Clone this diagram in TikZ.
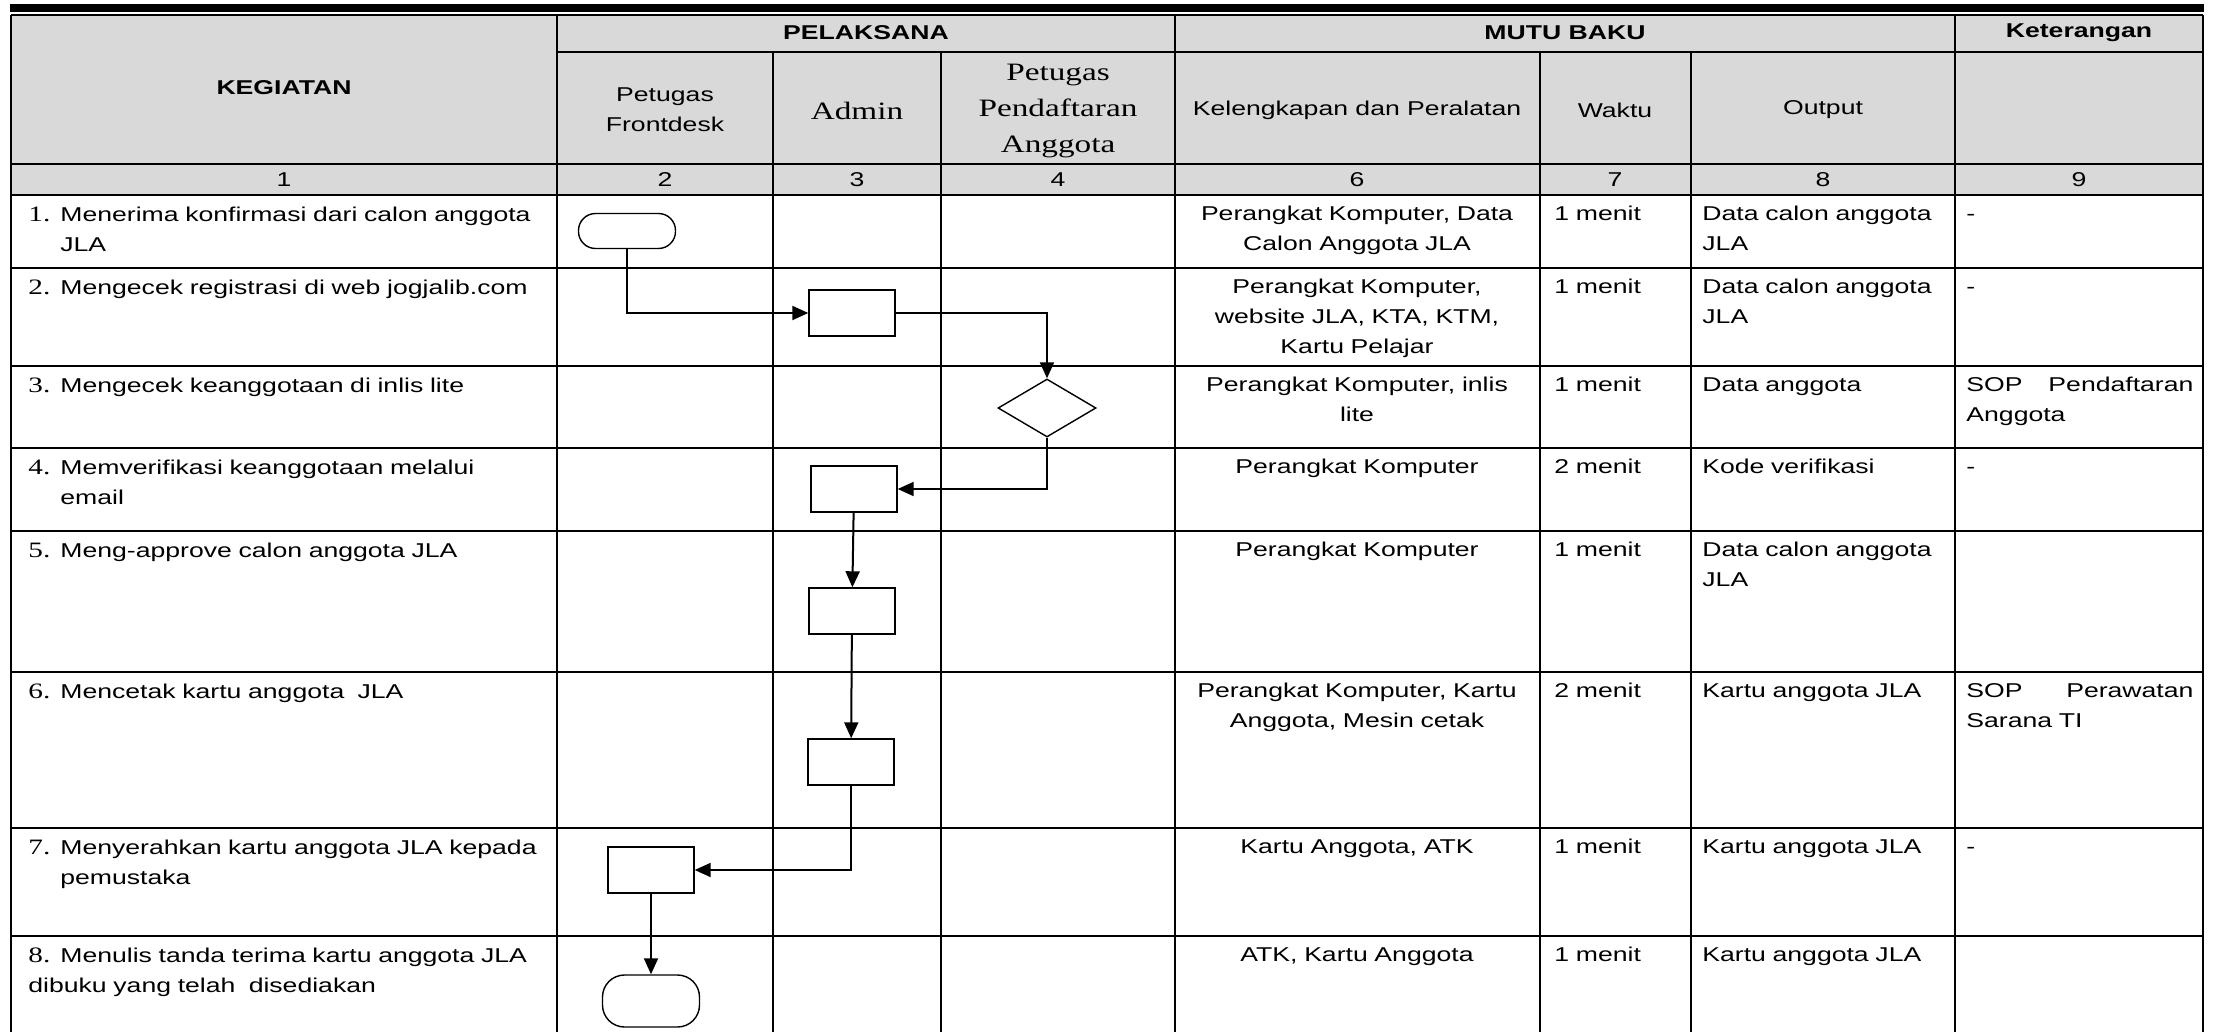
\documentclass[tikz,border=0pt]{standalone}
\usepackage{fontspec}
\setmainfont{Liberation Sans}[FakeStretch=1.33]
\newfontfamily\serifnum{Liberation Serif}[FakeStretch=1.33]
\usetikzlibrary{arrows.meta,shapes.geometric}
\definecolor{hdrgray}{HTML}{D9D9D9}
\tikzset{
  gridline/.style={line width=0.8pt},
  rowline/.style={line width=1.3pt},
  hdr/.style={font=\fontsize{10}{15}\selectfont\bfseries, inner sep=0pt},
  sub/.style={font=\fontsize{10}{15}\selectfont, align=center, inner sep=0pt},
  subrm/.style={font=\serifnum\fontsize{12.5}{18}\selectfont, align=center, inner sep=0pt},
  idx/.style={font=\serifnum\fontsize{11}{15}\selectfont, anchor=base west, inner sep=0pt},
  keg/.style={font=\fontsize{10}{15}\selectfont, text width=250pt, align=left,
              anchor=north west, inner sep=0pt, execute at begin node=\strut},
  alat/.style={font=\fontsize{10}{15}\selectfont, text width=182pt, align=center,
               anchor=north, inner sep=0pt, execute at begin node=\strut},
  cell/.style={font=\fontsize{10}{15}\selectfont, text width=128pt, align=left,
               anchor=north west, inner sep=0pt, execute at begin node=\strut},
  ket/.style={font=\fontsize{10}{15}\selectfont, text width=113.5pt, align=left,
              anchor=north west, inner sep=0pt, execute at begin node=\strut},
  proc/.style={rectangle, draw, line width=0.7pt, minimum width=43pt,
               minimum height=23pt, inner sep=0pt},
  term/.style={rectangle, draw, line width=0.7pt, minimum width=48.5pt, inner sep=0pt},
  dec/.style={diamond, draw, line width=0.7pt, minimum width=49pt,
              minimum height=29pt, inner sep=0pt},
  flow/.style={-{Triangle[length=8pt,width=7pt]}, line width=1pt},
}

\begin{document}
\begin{tikzpicture}[x=0.5pt,y=-0.5pt]
\useasboundingbox (0,0) rectangle (2215,1032);

% column and row edges
\def\ca{11}\def\cb{557}\def\cc{773}\def\cd{941}\def\ce{1175}
\def\cf{1540}\def\cg{1691}\def\ch{1955}\def\ci{2203}
\def\ra{15}\def\rb{52}\def\rc{164}\def\rd{195}\def\re{268}\def\rf{366}
\def\rg{448}\def\rh{531}\def\ri{672}\def\rj{828}\def\rk{936}\def\rl{1032}

% ---------- frame ----------
\fill (10,4) rectangle (2204,12);
\fill[hdrgray] (\ca,\ra) rectangle (\ci,\rd);
\draw[gridline] (\ca,\ra) -- (\ci,\ra) (\cb,\rb) -- (\ci,\rb);
\draw[rowline] (\ca,\rc) -- (\ci,\rc) (\ca,\rd) -- (\ci,\rd)
  (\ca,\re) -- (\ci,\re) (\ca,\rf) -- (\ci,\rf) (\ca,\rg) -- (\ci,\rg)
  (\ca,\rh) -- (\ci,\rh) (\ca,\ri) -- (\ci,\ri) (\ca,\rj) -- (\ci,\rj)
  (\ca,\rk) -- (\ci,\rk);
\draw[gridline] (\ca,\ra) -- (\ca,\rl) (\cb,\ra) -- (\cb,\rl)
  (\cc,\rb) -- (\cc,\rl) (\cd,\rb) -- (\cd,\rl) (\ce,\ra) -- (\ce,\rl)
  (\cf,\rb) -- (\cf,\rl) (\cg,\rb) -- (\cg,\rl) (\ch,\ra) -- (\ch,\rl)
  (\ci,\ra) -- (\ci,\rl);

% ---------- headers ----------
\node[hdr] (hKeg) at (284,88) {KEGIATAN};
\node[hdr] (hPel) at (866,33) {PELAKSANA};
\node[hdr] (hMutu) at (1565,33) {MUTU BAKU};
\node[hdr] (hKet) at (2079,33) {Keterangan};
\node[sub] (sFront) at (665,110) {Petugas\\Frontdesk};
\node[subrm] (sAdmin) at (857,111) {Admin};
\node[subrm] (sDaftar) at (1058,111) {Petugas\\Pendaftaran\\Anggota};
\node[sub] (sAlat) at (1357,110) {Kelengkapan dan Peralatan};
\node[sub] (sWaktu) at (1615,110) {Waktu};
\node[sub] (sOutput) at (1823,110) {Output};

\node[sub] (num1) at (284,180) {1};
\node[sub] (num2) at (665,180) {2};
\node[sub] (num3) at (857,180) {3};
\node[sub] (num4) at (1058,180) {4};
\node[sub] (num6) at (1357,180) {6};
\node[sub] (num7) at (1615,180) {7};
\node[sub] (num8) at (1823,180) {8};
\node[sub] (num9) at (2079,180) {9};

% ---------- kegiatan ----------
\node[idx] (i1) at (28,221) {1.};
\node[keg] (k1) at (60,200) {Menerima konfirmasi dari calon anggota\\JLA};
\node[idx] (i2) at (28,294) {2.};
\node[keg] (k2) at (60,273) {Mengecek registrasi di web jogjalib.com};
\node[idx] (i3) at (28,392) {3.};
\node[keg] (k3) at (60,371) {Mengecek keanggotaan di inlis lite};
\node[idx] (i4) at (28,474) {4.};
\node[keg] (k4) at (60,453) {Memverifikasi keanggotaan melalui\\email};
\node[idx] (i5) at (28,557) {5.};
\node[keg] (k5) at (60,536) {Meng-approve calon anggota JLA};
\node[idx] (i6) at (28,698) {6.};
\node[keg] (k6) at (60,677) {Mencetak kartu anggota~ JLA};
\node[idx] (i7) at (28,854) {7.};
\node[keg] (k7) at (60,833) {Menyerahkan kartu anggota JLA kepada\\pemustaka};
\node[idx] (i8) at (28,962) {8.};
\node[keg] (k8) at (60,941) {Menulis tanda terima kartu anggota JLA};
\node[keg] (k8b) at (28,971) {dibuku yang telah~ disediakan};

% ---------- mutu baku ----------
\node[alat] (a1) at (1357,199) {Perangkat Komputer, Data\\Calon Anggota JLA};
\node[alat] (a2) at (1357,272) {Perangkat Komputer,\\website JLA, KTA, KTM,\\Kartu Pelajar};
\node[alat] (a3) at (1357,370) {Perangkat Komputer, inlis\\lite};
\node[alat] (a4) at (1357,452) {Perangkat Komputer};
\node[alat] (a5) at (1357,535) {Perangkat Komputer};
\node[alat] (a6) at (1357,676) {Perangkat Komputer, Kartu\\Anggota, Mesin cetak};
\node[alat] (a7) at (1357,832) {Kartu Anggota, ATK};
\node[alat] (a8) at (1357,940) {ATK, Kartu Anggota};

\node[cell] (w1) at (1554,199) {1 menit};
\node[cell] (w2) at (1554,272) {1 menit};
\node[cell] (w3) at (1554,370) {1 menit};
\node[cell] (w4) at (1554,452) {2 menit};
\node[cell] (w5) at (1554,535) {1 menit};
\node[cell] (w6) at (1554,676) {2 menit};
\node[cell] (w7) at (1554,832) {1 menit};
\node[cell] (w8) at (1554,940) {1 menit};

\node[cell] (o1) at (1702,199) {Data calon anggota\\JLA};
\node[cell] (o2) at (1702,272) {Data calon anggota\\JLA};
\node[cell] (o3) at (1702,370) {Data anggota};
\node[cell] (o4) at (1702,452) {Kode verifikasi};
\node[cell] (o5) at (1702,535) {Data calon anggota\\JLA};
\node[cell] (o6) at (1702,676) {Kartu anggota JLA};
\node[cell] (o7) at (1702,832) {Kartu anggota JLA};
\node[cell] (o8) at (1702,940) {Kartu anggota JLA};

% ---------- keterangan ----------
\node[ket] (ket1) at (1966,199) {-};
\node[ket] (ket2) at (1966,272) {-};
\node[ket] (ket3) at (1966,370) {SOP\hfill Pendaftaran\\Anggota};
\node[ket] (ket4) at (1966,452) {-};
\node[ket] (ket6) at (1966,676) {SOP\hfill Perawatan\\Sarana TI};
\node[ket] (ket7) at (1966,832) {-};

% ---------- flow ----------
\node[term, rounded corners=8.5pt, minimum height=17.5pt] (s1) at (627,231) {};
\node[proc] (p2) at (852,313) {};
\node[dec] (q3) at (1047,408) {};
\node[proc] (p4) at (854,489) {};
\node[proc] (p5) at (852,611) {};
\node[proc] (p6) at (851,762) {};
\node[proc] (p7) at (651,870) {};
\node[term, rounded corners=11pt, minimum height=26pt] (e8) at (651,1001) {};

\draw[flow] (s1.south) |- (p2.west);
\draw[flow] (p2.east) -| (q3.north);
\draw[flow] (q3.south) |- (p4.east);
\draw[flow] (p4) -- (p5);
\draw[flow] (p5) -- (p6);
\draw[flow] (p6.south) |- (p7.east);
\draw[flow] (p7) -- (e8);
\end{tikzpicture}
\end{document}
